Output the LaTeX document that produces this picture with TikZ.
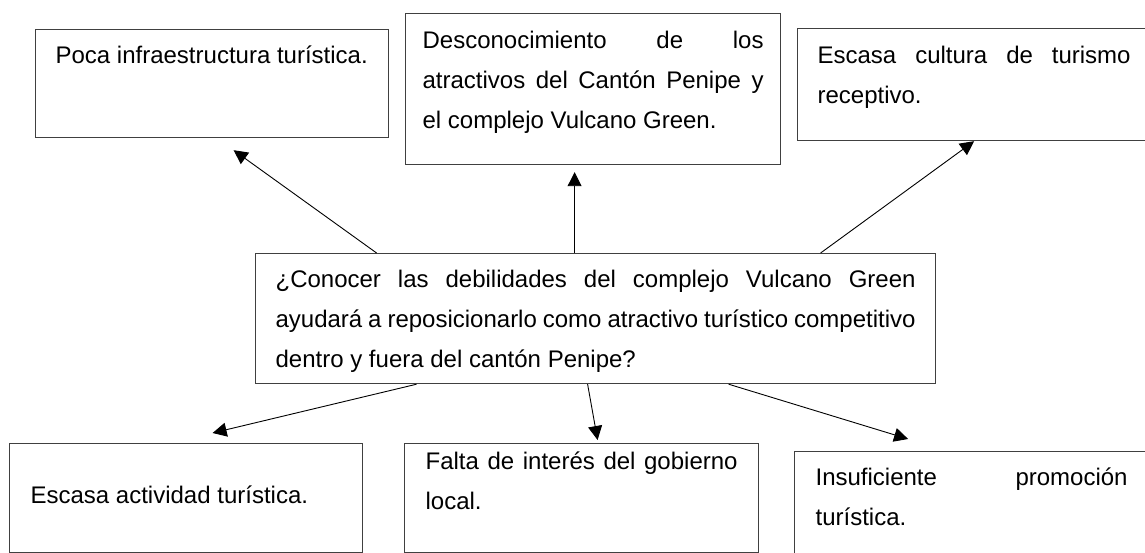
\documentclass[tikz,border=0pt]{standalone}
\usepackage{fontspec}
\setmainfont{Liberation Sans}
\usetikzlibrary{arrows.meta}

\begin{document}
\begin{tikzpicture}[caja/.style = {draw=black!75, line width=1.2pt, anchor=north west, inner xsep=20pt, inner ysep=0pt, align=justify, font={\fontsize{24}{40}\selectfont\tolerance=10000\hyphenpenalty=10000\spaceskip=.278em plus .8em minus .12em}}, flecha/.style = {->, line width=0.9pt}, >={Triangle[length=14pt,width=14pt]}, x=1pt, y=-1pt]
\useasboundingbox (0,0) rectangle (1145,553);
\node[caja, text width=640pt, text height=34pt, text depth=96pt] (0) at (255,253) {¿Conocer~las~debilidades~del~complejo~Vulcano~Green\linebreak ayudará~a~reposicionarlo~como~atractivo~turístico~competitivo\linebreak dentro y fuera del cantón Penipe?};
\node[caja, text width=313pt, text height=34pt, text depth=74pt] (1) at (35,29) {Poca infraestructura turística.};
\node[caja, text width=341pt, inner xsep=17pt, text height=35pt, text depth=116pt] (2) at (405,13) {Desconocimiento~de~los\linebreak atractivos~del~Cantón~Penipe~y\linebreak el complejo Vulcano Green.};
\node[caja, text width=313pt, text height=35pt, text depth=77pt] (3) at (797,28) {Escasa~cultura~de~turismo\linebreak receptivo.};
\node[caja, text width=311pt, inner xsep=21pt, text height=60pt, text depth=49pt] (4) at (9,443) {Escasa actividad turística.};
\node[caja, text width=312pt, inner xsep=21pt, text height=26pt, text depth=83pt] (5) at (404,443) {Falta~de~interés~del~gobierno\linebreak local.};
\node[caja, text width=312pt, inner xsep=21pt, text height=34pt, text depth=80pt] (6) at (794,451) {Insuficiente~promoción\linebreak turística.};
\draw[flecha] ([xshift=-219pt]0.north) -- ([xshift=21.5pt,yshift=-12pt]1.south);
\draw[flecha] ([xshift=-21pt]0.north) -- ([xshift=-18.5pt,yshift=-7pt]2.south);
\draw[flecha] ([xshift=225pt]0.north) -- (3.south);
\draw[flecha] ([xshift=-179pt]0.south) -- ([xshift=26.5pt,yshift=10pt]4.north);
\draw[flecha] ([xshift=-8pt]0.south) -- ([xshift=16pt,yshift=3pt]5.north);
\draw[flecha] ([xshift=133pt]0.south) -- ([xshift=-63.5pt,yshift=12pt]6.north);
\end{tikzpicture}
\end{document}
